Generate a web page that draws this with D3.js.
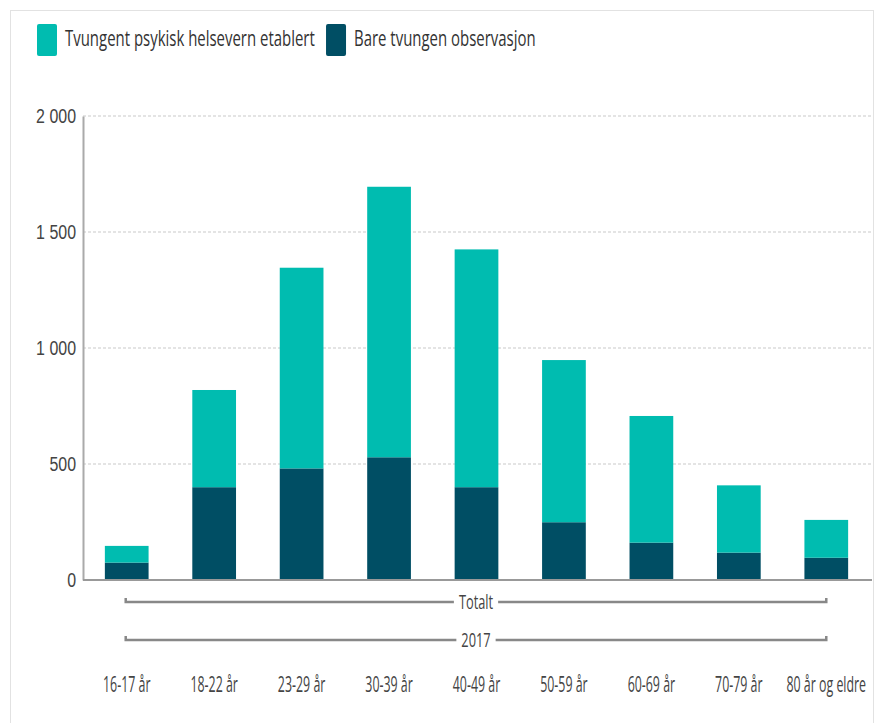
<!DOCTYPE html>
<html>
<head>
<meta charset="utf-8">
<script src="https://cdn.jsdelivr.net/npm/d3@7"></script>
<style>
  body { margin: 0; background: #fff; }
  svg { display: block; font-family: "Open Sans", sans-serif; }
</style>
</head>
<body>
<div id="chart"></div>
<script>
// aldersgrupper
var categories = ["16-17 år", "18-22 år", "23-29 år", "30-39 år", "40-49 år", "50-59 år", "60-69 år", "70-79 år", "80 år og eldre"];
// Bare tvungen observasjon (nederst)
var observasjon = [75, 400, 481, 529, 400, 249, 161, 118, 96];
// Tvungent psykisk helsevern etablert (oppå)
var etablert = [72, 419, 865, 1166, 1025, 699, 546, 290, 163];
var seriesNames = ["Tvungent psykisk helsevern etablert", "Bare tvungen observasjon"];
var yTicks = [0, 500, 1000, 1500, 2000];
var groupLabels = ["Totalt", "2017"];

var width = 878, height = 723;
var margin = {top: 116, right: 8, bottom: 143, left: 83};
var colors = {etablert: "#00bcb0", observasjon: "#004e64"};

var svg = d3.select("#chart").append("svg")
    .attr("width", width)
    .attr("height", height);

// ramme rundt
svg.append("rect")
    .attr("x", 10.5).attr("y", 10.5)
    .attr("width", width - 15).attr("height", height + 20)
    .attr("fill", "none")
    .attr("stroke", "#e2e2e2");

// smal skrift: skalerer tekst horisontalt rundt x-ankeret
function condense(s) {
    return function(sel) {
        sel.each(function() {
            var tx = +d3.select(this).attr("x") || 0;
            d3.select(this).attr("transform",
                "translate(" + tx + ",0) scale(" + s + ",1) translate(" + (-tx) + ",0)");
        });
    };
}

var x = d3.scaleBand()
    .domain(categories)
    .range([margin.left, width - margin.right])
    .paddingInner(0.5)
    .paddingOuter(0.25);

var y = d3.scaleLinear()
    .domain([0, 2000])
    .range([height - margin.bottom, margin.top]);

// rutenett
svg.append("g").selectAll("line")
    .data(yTicks.filter(function(d) { return d > 0; }))
    .enter().append("line")
    .attr("x1", margin.left).attr("x2", width - 6)
    .attr("y1", function(d) { return y(d); })
    .attr("y2", function(d) { return y(d); })
    .attr("stroke", "#dcdcdc")
    .attr("stroke-width", 1.5)
    .attr("stroke-dasharray", "3,2");

// y-akse
var yAxis = svg.append("g")
    .attr("transform", "translate(" + margin.left + ",0)")
    .call(d3.axisLeft(y).tickValues(yTicks).tickSize(0).tickPadding(7)
        .tickFormat(function(d) { return d3.format(",")(d).replace(",", " "); }));
yAxis.select(".domain").attr("stroke", "#aaa").attr("stroke-width", 2);
yAxis.selectAll("text")
    .attr("fill", "#444")
    .style("font-size", "21px")
    .call(condense(0.76));

// stablede søyler
var data = categories.map(function(c, i) {
    return {cat: c, observasjon: observasjon[i], etablert: etablert[i]};
});
var stack = d3.stack().keys(["observasjon", "etablert"]);
var layers = stack(data);

svg.append("g").selectAll("g")
    .data(layers)
    .enter().append("g")
    .attr("fill", function(d) { return colors[d.key]; })
    .selectAll("rect")
    .data(function(d) { return d; })
    .enter().append("rect")
    .attr("x", function(d) { return x(d.data.cat); })
    .attr("width", x.bandwidth())
    .attr("y", function(d) { return y(d[1]); })
    .attr("height", function(d) { return y(d[0]) - y(d[1]); });

// x-akse linje
svg.append("line")
    .attr("x1", margin.left).attr("x2", width - 6)
    .attr("y1", y(0)).attr("y2", y(0))
    .attr("stroke", "#999")
    .attr("stroke-width", 2);

// grupperings-klammer (Totalt / 2017)
var cx0 = x(categories[0]) + x.bandwidth() / 2 - 1;
var cx1 = x(categories[categories.length - 1]) + x.bandwidth() / 2;
var bracketY = [602, 640];
var sqLabel = 0.64;

groupLabels.forEach(function(lbl, i) {
    var by = bracketY[i];
    var g = svg.append("g");
    g.append("path")
        .attr("d", "M" + cx0 + "," + (by - 4) + "V" + by + "H" + cx1 + "V" + (by - 4))
        .attr("fill", "none")
        .attr("stroke", "#888")
        .attr("stroke-width", 2.5);
    var t = g.append("text")
        .attr("x", (cx0 + cx1) / 2)
        .attr("y", by + 7)
        .attr("text-anchor", "middle")
        .attr("fill", "#444")
        .style("font-size", "20px")
        .text(lbl);
    var w = t.node().getComputedTextLength() * sqLabel;
    t.call(condense(sqLabel));
    g.insert("rect", "text")
        .attr("x", (cx0 + cx1) / 2 - w / 2 - 5)
        .attr("y", by - 3)
        .attr("width", w + 10)
        .attr("height", 6)
        .attr("fill", "#fff");
});

// kategorietiketter
svg.append("g").selectAll("text")
    .data(categories)
    .enter().append("text")
    .attr("x", function(d) { return x(d) + x.bandwidth() / 2; })
    .attr("y", 692)
    .attr("text-anchor", "middle")
    .attr("fill", "#444")
    .style("font-size", "21px")
    .text(function(d) { return d; })
    .call(condense(0.59));

// tegnforklaring
var legend = svg.append("g");
var legendColors = [colors.etablert, colors.observasjon];
var sqLegend = 0.68;
var lx = 37;
seriesNames.forEach(function(name, i) {
    legend.append("rect")
        .attr("x", lx).attr("y", 24)
        .attr("width", 20).attr("height", 32)
        .attr("rx", 2)
        .attr("fill", legendColors[i]);
    var t = legend.append("text")
        .attr("x", lx + 28)
        .attr("y", 46)
        .attr("fill", "#333")
        .style("font-size", "22px")
        .text(name);
    var w = t.node().getComputedTextLength() * sqLegend;
    t.call(condense(sqLegend));
    lx += 28 + w + 11;
});
</script>
</body>
</html>
